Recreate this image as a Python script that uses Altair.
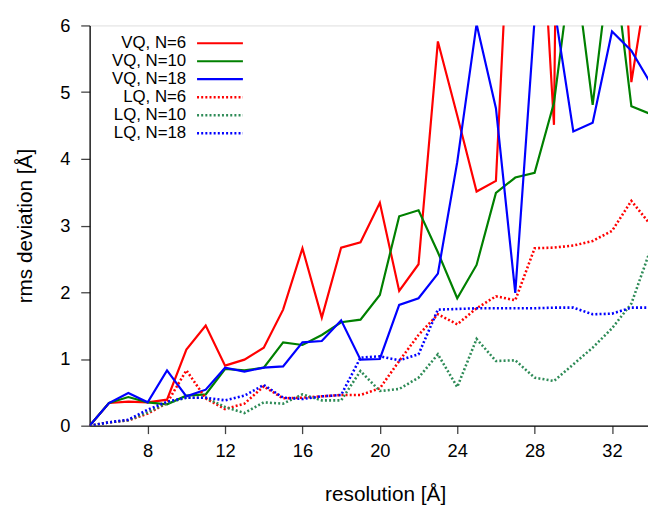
import altair as alt
import pandas as pd

resolution = list(range(5, 35))

vq_n6 = [0, 0.34, 0.36, 0.35, 0.39, 1.14, 1.50, 0.90, 0.99, 1.17, 1.74, 2.66, 1.62, 2.67, 2.75,
         3.34, 2.02, 2.42, 5.76, 4.65, 3.51, 3.67, 9.6, 9.45, 4.51, 30.0, 20.0, 10.4, 5.15, 6.97]
vq_n10 = [0, 0.34, 0.43, 0.35, 0.32, 0.45, 0.47, 0.85, 0.83, 0.87, 1.25, 1.21, 1.36, 1.55, 1.59,
          1.96, 3.14, 3.23, 2.60, 1.91, 2.41, 3.49, 3.72, 3.79, 4.84, 7.1, 4.81, 7.2, 4.79, 4.67]
vq_n18 = [0, 0.34, 0.49, 0.35, 0.83, 0.44, 0.54, 0.87, 0.81, 0.87, 0.89, 1.25, 1.27, 1.58, 0.99,
          1.00, 1.81, 1.91, 2.28, 3.95, 6.02, 4.76, 1.99, 6.1, 6.3, 4.41, 4.54, 5.91, 5.62, 5.13]
lq_n6 = [0, 0.05, 0.08, 0.18, 0.34, 0.83, 0.41, 0.25, 0.33, 0.59, 0.41, 0.42, 0.44, 0.46, 0.46,
         0.56, 0.97, 1.36, 1.67, 1.52, 1.76, 1.94, 1.88, 2.66, 2.67, 2.70, 2.77, 2.92, 3.37, 3.01]
lq_n10 = [0, 0.05, 0.08, 0.20, 0.34, 0.42, 0.42, 0.28, 0.19, 0.35, 0.33, 0.47, 0.38, 0.38, 0.82,
          0.52, 0.55, 0.72, 1.07, 0.58, 1.30, 0.97, 0.98, 0.72, 0.67, 0.92, 1.17, 1.46, 1.83, 2.65]
lq_n18 = [0, 0.05, 0.09, 0.24, 0.36, 0.42, 0.42, 0.38, 0.45, 0.61, 0.42, 0.40, 0.44, 0.46, 1.02,
          1.04, 0.98, 1.07, 1.74, 1.75, 1.76, 1.76, 1.76, 1.76, 1.77, 1.77, 1.67, 1.68, 1.77, 1.77]

names = ["VQ, N=6", "VQ, N=10", "VQ, N=18", "LQ, N=6", "LQ, N=10", "LQ, N=18"]
series = [vq_n6, vq_n10, vq_n18, lq_n6, lq_n10, lq_n18]
colors = ["#ff0000", "#008000", "#0000ff", "#ff0000", "#2e8b57", "#0000ff"]
dotted = [False, False, False, True, True, True]

x_ticks = [8, 12, 16, 20, 24, 28, 32]
y_ticks = [0, 1, 2, 3, 4, 5, 6]

FONT = "Liberation Sans"
W, H = 565, 405

x_scale = alt.Scale(domain=[5, 33.86], nice=False, zero=False)
y_scale = alt.Scale(domain=[0, 6], nice=False)

x_axis = alt.Axis(values=x_ticks, title="resolution [Å]", grid=False, tickSize=8,
                  labelPadding=8, labelFontSize=18.5, titleFontSize=21, labelFont=FONT,
                  titleFont=FONT, titleFontWeight="normal", domainColor="black",
                  tickColor="#444", labelColor="black", titleColor="black",
                  labelFlush=False, domainWidth=1.3, tickWidth=1.3,
                  titleX=299, titleY=75.5, titleBaseline="alphabetic")
y_axis = alt.Axis(values=y_ticks, title="rms deviation [Å]", grid=False, tickSize=9,
                  labelPadding=11, labelFontSize=18.5, titleFontSize=21, labelFont=FONT,
                  titleFont=FONT, titleFontWeight="normal", domainColor="black",
                  tickColor="#444", labelColor="black", titleColor="black",
                  labelFlush=False, domainWidth=1.3, tickWidth=1.3,
                  titleX=-59, titleY=H / 2, titleBaseline="alphabetic", titleAngle=-90)

layers = []
for name, vals, col, dot in zip(names, series, colors, dotted):
    df = pd.DataFrame({"resolution": resolution, "rmsd": vals, "series": name})
    kw = dict(color=col, strokeWidth=2.6 if dot else 2.2, clip=True)
    if dot:
        kw["strokeDash"] = [2, 2.2]
    layers.append(
        alt.Chart(df).mark_line(**kw).encode(
            x=alt.X("resolution:Q", scale=x_scale, axis=x_axis),
            y=alt.Y("rmsd:Q", scale=y_scale, axis=y_axis),
        )
    )

# legend (top-left inside plot, labels to the left of the line samples)
row0, row_step = 18.0, 18.2
for i, (name, col, dot) in enumerate(zip(names, colors, dotted)):
    yy = row0 + i * row_step
    ldf = pd.DataFrame({"label": [name]})
    layers.append(
        alt.Chart(ldf).mark_text(align="right", baseline="middle", font=FONT,
                                 fontSize=17, color="black").encode(
            text="label:N", x=alt.value(97.7), y=alt.value(yy))
    )
    rk = dict(color=col, strokeWidth=2.6 if dot else 2.2)
    if dot:
        rk["strokeDash"] = [2, 2.2]
    layers.append(
        alt.Chart(ldf).mark_rule(**rk).encode(
            x=alt.value(108.7), x2=alt.value(155.1), y=alt.value(yy))
    )

chart = alt.layer(*layers).properties(
    width=W, height=H,
    autosize=alt.AutoSizeParams(type="none"),
    padding={"left": 82.6, "top": 14.7, "right": 0, "bottom": 79},
).configure_view(stroke=None).configure(background="white")

chart.save("out.html", embed_options={"renderer": "svg", "actions": False})
